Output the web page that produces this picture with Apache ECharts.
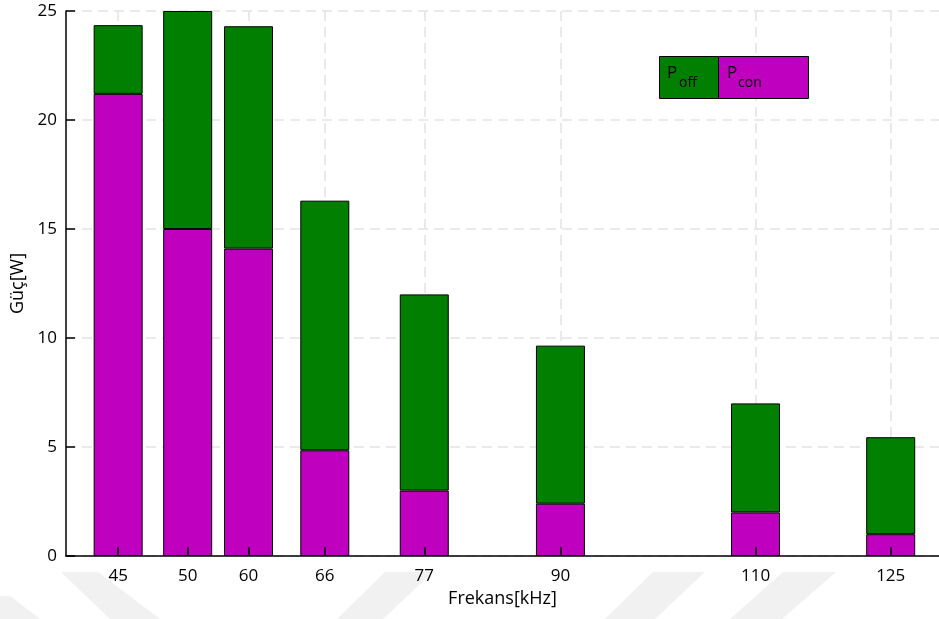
<!DOCTYPE html>
<html>
<head>
<meta charset="utf-8">
<script src="https://cdn.jsdelivr.net/npm/echarts@6/dist/echarts.min.js"></script>
<style>
  html, body { margin: 0; padding: 0; background: #fff; }
  #chart { width: 939px; height: 619px; }
</style>
</head>
<body>
<div id="chart"></div>
<script>
// Switching frequencies (tick labels) and where each group sits on the axis
const freqLabels = ['45', '50', '60', '66', '77', '90', '110', '125'];
const freqSlots = [45, 52.2, 58.5, 66.4, 76.7, 90.8, 111.0, 125];

// Loss components in watts
const pCon = [21.2, 15.0, 14.1, 4.85, 3.0, 2.4, 2.0, 1.0];
const pOff = [3.15, 10.0, 10.2, 11.45, 9.0, 7.25, 5.0, 4.45];

const yTicks = [0, 5, 10, 15, 20, 25];

const GREEN = '#007f00';
const MAGENTA = '#bf00bf';
const FONT = '"Open Sans", "Noto Sans", sans-serif';
const GRID_LINE = { color: '#e3e3e3', type: [10, 6], width: 1.5 };

const labelOf = {};
freqSlots.forEach((s, i) => { labelOf[s] = freqLabels[i]; });

const chart = echarts.init(document.getElementById('chart'), null, { renderer: 'canvas' });

const barStyle = (color) => ({
  color: color,
  borderColor: '#000',
  borderWidth: 1
});

// value first, frequency slot second, so the stack is built on the power values
const rows = (vals) => freqSlots.map((s, i) => [vals[i], s]);

chart.setOption({
  animation: false,
  backgroundColor: '#fff',
  grid: { left: 66, right: -4, top: 11, bottom: 63, containLabel: false },
  xAxis: [
    {
      // background grid only
      type: 'value', min: 39.6, max: 130, position: 'bottom', z: 0,
      axisLine: { show: false },
      axisTick: { show: false, customValues: freqSlots },
      axisLabel: { show: false },
      splitLine: { show: true, lineStyle: GRID_LINE }
    },
    {
      // axis line, ticks and labels drawn above the bars
      type: 'value', min: 39.6, max: 130, position: 'bottom', z: 5,
      name: 'Frekans[kHz]',
      nameLocation: 'middle',
      nameGap: 32,
      nameTextStyle: { fontFamily: FONT, fontSize: 18, color: '#000' },
      axisLine: { show: true, onZero: false, lineStyle: { color: '#000', width: 1.5 } },
      axisTick: {
        show: true, inside: true, length: 9,
        customValues: freqSlots,
        lineStyle: { color: '#000', width: 1.5 }
      },
      axisLabel: {
        customValues: freqSlots,
        formatter: (v) => labelOf[v] !== undefined ? labelOf[v] : '',
        fontFamily: FONT, fontSize: 17, color: '#000', margin: 12
      },
      splitLine: { show: false }
    }
  ],
  yAxis: {
    type: 'value',
    min: 0,
    max: 25,
    interval: 5,
    name: 'Güç[W]',
    nameLocation: 'middle',
    nameGap: 33,
    nameRotate: 90,
    nameTextStyle: { fontFamily: FONT, fontSize: 18, color: '#000' },
    axisLine: { show: true, lineStyle: { color: '#000', width: 1.5 } },
    axisTick: { show: true, inside: true, length: 9, lineStyle: { color: '#000', width: 1.5 } },
    axisLabel: {
      customValues: yTicks,
      fontFamily: FONT, fontSize: 17, color: '#000', margin: 9
    },
    splitLine: { show: true, lineStyle: GRID_LINE }
  },
  series: [
    {
      name: 'Pcon',
      type: 'bar',
      stack: 'loss',
      barWidth: 49,
      xAxisIndex: 0,
      encode: { x: 1, y: 0 },
      itemStyle: barStyle(MAGENTA),
      data: rows(pCon)
    },
    {
      name: 'Poff',
      type: 'bar',
      stack: 'loss',
      barWidth: 49,
      xAxisIndex: 0,
      encode: { x: 1, y: 0 },
      itemStyle: barStyle(GREEN),
      data: rows(pOff)
    }
  ],
  graphic: [
    // faint diagonal stripes along the bottom edge
    { type: 'polygon', z: -10, silent: true, shape: { points: [[0, 596], [10, 596], [40, 619], [0, 619]] }, style: { fill: '#f1f1f1' } },
    { type: 'polygon', z: -10, silent: true, shape: { points: [[61, 572], [98, 572], [160, 619], [110, 619]] }, style: { fill: '#f1f1f1' } },
    { type: 'polygon', z: -10, silent: true, shape: { points: [[385, 572], [433, 572], [383, 619], [337, 619]] }, style: { fill: '#f1f1f1' } },
    { type: 'polygon', z: -10, silent: true, shape: { points: [[653, 572], [705, 572], [655, 619], [605, 619]] }, style: { fill: '#f1f1f1' } },
    { type: 'polygon', z: -10, silent: true, shape: { points: [[783, 572], [836, 572], [782, 619], [730, 619]] }, style: { fill: '#f1f1f1' } },
    // legend boxes with the component names written inside
    { type: 'rect', z: 50, shape: { x: 659.5, y: 56.5, width: 59, height: 42 }, style: { fill: GREEN, stroke: '#000', lineWidth: 1 } },
    { type: 'rect', z: 50, shape: { x: 718.5, y: 56.5, width: 90, height: 42 }, style: { fill: MAGENTA, stroke: '#000', lineWidth: 1 } },
    { type: 'text', z: 51, x: 667, y: 73, style: { text: 'P', font: '17px ' + FONT, fill: '#000', verticalAlign: 'middle' } },
    { type: 'text', z: 51, x: 679, y: 83, style: { text: 'off', font: '14px ' + FONT, fill: '#000', verticalAlign: 'middle' } },
    { type: 'text', z: 51, x: 727, y: 73, style: { text: 'P', font: '17px ' + FONT, fill: '#000', verticalAlign: 'middle' } },
    { type: 'text', z: 51, x: 738, y: 83, style: { text: 'con', font: '14px ' + FONT, fill: '#000', verticalAlign: 'middle' } }
  ]
});
</script>
</body>
</html>
